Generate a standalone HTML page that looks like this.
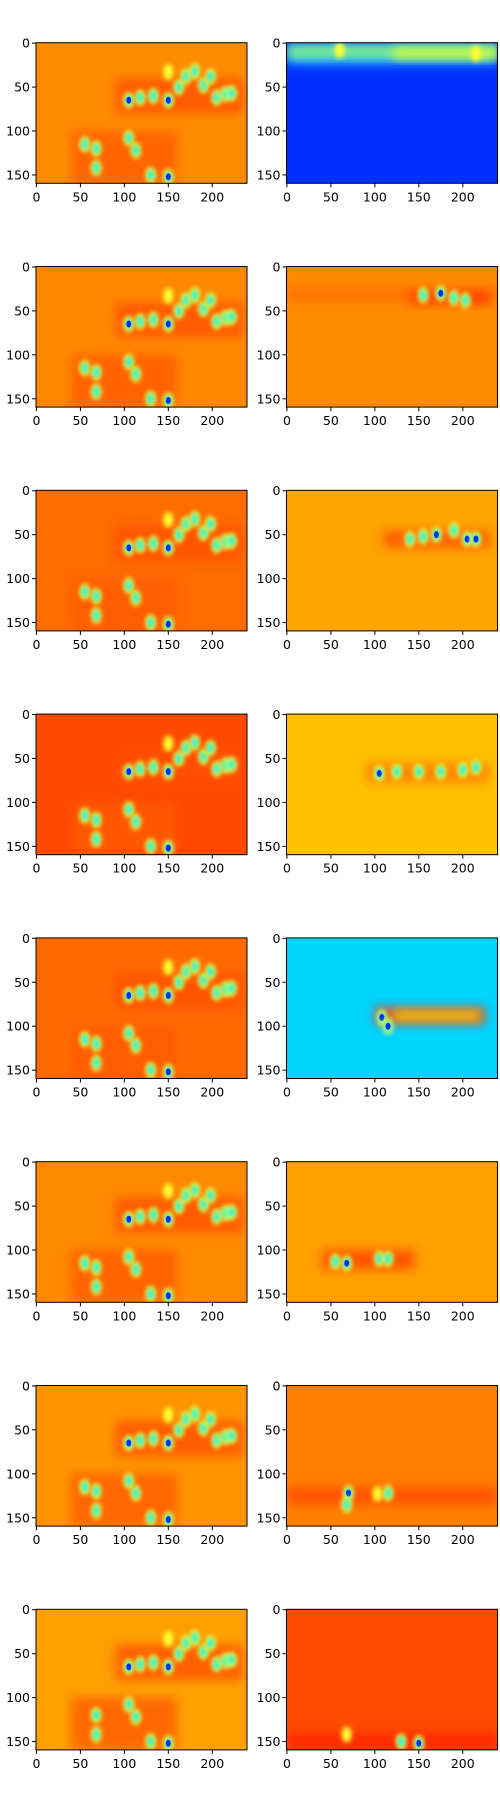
<!DOCTYPE html>
<html><head><meta charset="utf-8"><style>
html,body{margin:0;padding:0;background:#fff;width:500px;height:1800px;overflow:hidden}
svg{display:block}
text{font-family:"DejaVu Sans","Liberation Sans",sans-serif;font-size:12.5px;fill:#000}
</style></head><body>
<svg id="chart" width="500" height="1800" viewBox="0 0 500 1800">
<defs>
<filter id="b1" x="-50%" y="-50%" width="200%" height="200%"><feGaussianBlur stdDeviation="2.5"/></filter>
<filter id="b2" x="-50%" y="-50%" width="200%" height="200%"><feGaussianBlur stdDeviation="5"/></filter>
</defs>
</svg>
<script>
// data coordinates: x 0..240 columns, y 0..160 rows
const xTicks=[0,50,100,150,200];
const yTicks=[0,50,100,150];
const leftBg=["#ff8c00","#ff8800","#ff6c00","#ff4a00","#ff6a00","#ff8a00","#ff9400","#ffa000"];
const rightBg=["#0030ff","#ff8a00","#ffa400","#ffc000","#00d4ff","#ffa000","#ff8000","#ff4c00"];
// shared left-panel blobs [x,y,core]
const leftBlobs=[[105,65,"b"],[118,62,"c"],[133,60,"c"],[150,65,"b"],[150,33,"y"],[162,50,"c"],[170,38,"c"],[180,32,"c"],[190,48,"c"],[198,38,"c"],[205,62,"c"],[215,58,"c"],[222,57,"c"],[55,115,"c"],[68,120,"c"],[68,142,"c"],[105,108,"c"],[113,122,"c"],[130,150,"c"],[150,152,"b"]];
// left band regions [y0,y1,x0,x1,color]
const leftBands=[[40,80,90,235,"#ff5000"],[100,160,40,160,"#ff5a00"]];
// right panel bands and blobs per row
const rightBands=[
 [[0,24,0,240,"#30e0ff"],[3,16,0,240,"#a0ff60"],[5,18,120,240,"#e0ff30"]],
 [[22,40,0,240,"#ff7000"],[28,42,140,230,"#ff3000"]],
 [[45,65,110,230,"#ff5000"]],
 [[55,78,90,230,"#ff7a00"]],
 [[78,98,100,225,"#ff3000"],[82,94,120,220,"#ffe000"]],
 [[100,122,40,145,"#ff4000"]],
 [[115,135,0,240,"#ff4800"]],
 [[140,160,0,240,"#ff2000"]]];
const rightBlobs=[
 [[215,12,"y"],[60,8,"y"]],
 [[155,32,"c"],[175,30,"b"],[190,35,"c"],[203,38,"c"]],
 [[140,55,"c"],[155,52,"c"],[170,50,"b"],[190,45,"c"],[205,55,"b"],[215,55,"b"]],
 [[105,67,"b"],[125,65,"c"],[150,65,"c"],[175,65,"c"],[200,63,"c"],[215,60,"c"]],
 [[108,90,"b"],[115,100,"b"]],
 [[55,113,"c"],[68,115,"b"],[105,110,"c"],[115,110,"c"]],
 [[70,122,"b"],[68,135,"c"],[115,122,"c"],[103,123,"y"]],
 [[68,142,"y"],[130,150,"c"],[150,152,"b"]]];
const svg=document.getElementById('chart');
const NS='http://www.w3.org/2000/svg';
const PW=211, PH=140.6, LX=[36,286.5], TOP0=42.7, PITCH=223.8;
function sx(col,x){return LX[col]+(x+0.5)*PW/240;}
function sy(row,y){return TOP0+row*PITCH+(y+0.5)*PH/160;}
function mk(tag,attrs,parent){const e=document.createElementNS(NS,tag);for(const k in attrs)e.setAttribute(k,attrs[k]);(parent||svg).appendChild(e);return e;}
function drawBlob(g,col,row,b){
 const cx=sx(col,b[0]),cy=sy(row,b[1]);
 const h=mk('ellipse',{cx:cx,cy:cy,rx:5,ry:8,fill:'#ffff30',filter:'url(#b1)'},g);
 
 
 if(b[2]!=="y"){
  const c=mk('ellipse',{cx:cx,cy:cy,rx:3.5,ry:5.5,fill:'#20f0e0',filter:'url(#b1)'},g);
  
  
  if(b[2]==="b"){
   const d=mk('ellipse',{cx:cx,cy:cy,rx:2.5,ry:3.5,fill:'#0030ff'},g);
   
   
  }
 }
}
function panel(col,row,bg,bands,blobs){
 const x0=LX[col],y0=TOP0+row*PITCH;
 const clipId='c'+col+'_'+row;
 const cp=mk('clipPath',{id:clipId});
 mk('rect',{x:x0,y:y0,width:PW,height:PH},cp);
 const g=mk('g',{'clip-path':'url(#'+clipId+')'});
 
 
 const r=mk('rect',{x:x0,y:y0,width:PW,height:PH,fill:bg},g);
 
 
 bands.forEach(bd=>{
  const e=mk('rect',{x:sx(col,bd[2]),y:sy(row,bd[0]),width:(bd[3]-bd[2])*PW/240,height:(bd[1]-bd[0])*PH/160,fill:bd[4],opacity:0.8,filter:'url(#b2)'},g);
  
  
 });
 blobs.forEach(b=>drawBlob(g,col,row,b));
 const f=mk('rect',{x:x0,y:y0,width:PW,height:PH,fill:'none',stroke:'#000','stroke-width':1});
 
 
 xTicks.forEach(t=>{
  const x=sx(col,t);
  const l=mk('line',{x1:x,x2:x,y1:y0+PH,y2:y0+PH+4,stroke:'#000'});
  
  
  const tx=mk('text',{x:x,y:y0+PH+18,'text-anchor':'middle'});
  
  
  tx.textContent=t;
 });
 yTicks.forEach(t=>{
  const y=sy(row,t);
  const l=mk('line',{x1:x0-4,x2:x0,y1:y,y2:y,stroke:'#000'});
  
  
  const tx=mk('text',{x:x0-6,y:y+4.5,'text-anchor':'end'});
  
  
  tx.textContent=t;
 });
}
for(let r=0;r<8;r++){
 const lb=leftBlobs.filter(b=>!(r===7&&b[1]>100&&b[0]<60));
 panel(0,r,leftBg[r],leftBands,lb);
 panel(1,r,rightBg[r],rightBands[r],rightBlobs[r]);
}
</script>
</body></html>
